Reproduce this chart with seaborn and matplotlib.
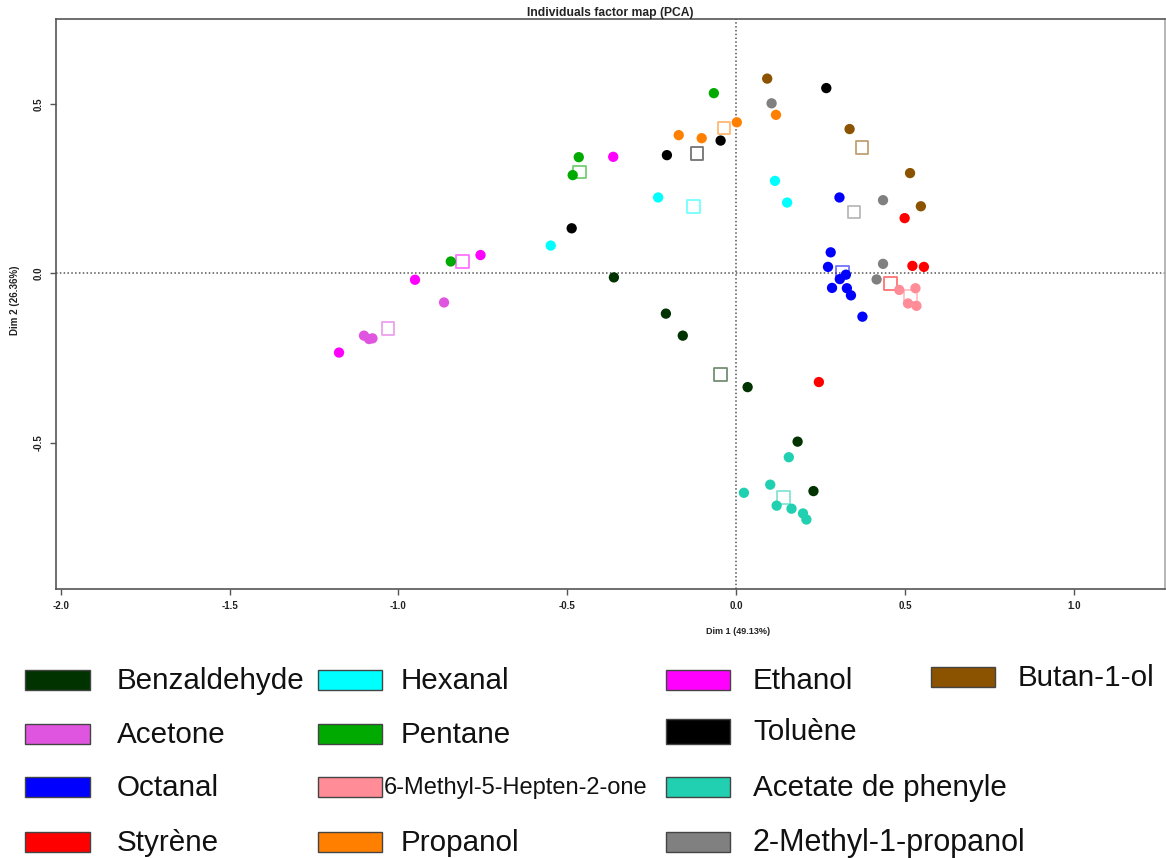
import numpy as np
import pandas as pd
import matplotlib
matplotlib.use("Agg")
import matplotlib.pyplot as plt
from matplotlib.patches import Rectangle
import seaborn as sns

# ---------------- data ----------------
categories = ["Benzaldehyde", "Acetone", "Octanal", "Styrène", "Hexanal", "Pentane",
              "6-Methyl-5-Hepten-2-one", "Propanol", "Ethanol", "Toluène",
              "Acetate de phenyle", "2-Methyl-1-propanol", "Butan-1-ol"]

benzaldehyde_x = [-0.362, -0.208, -0.158, 0.034, 0.182, 0.229]
benzaldehyde_y = [-0.012, -0.119, -0.184, -0.336, -0.497, -0.643]
acetone_x = [-0.865, -1.102, -1.087, -1.077]
acetone_y = [-0.086, -0.184, -0.194, -0.192]
octanal_x = [0.306, 0.280, 0.272, 0.325, 0.307, 0.284, 0.328, 0.340, 0.374]
octanal_y = [0.224, 0.062, 0.019, -0.004, -0.017, -0.043, -0.044, -0.065, -0.128]
styrene_x = [0.499, 0.522, 0.556, 0.245]
styrene_y = [0.163, 0.022, 0.019, -0.321]
hexanal_x = [-0.549, -0.231, 0.115, 0.151]
hexanal_y = [0.082, 0.224, 0.273, 0.209]
pentane_x = [-0.845, -0.484, -0.466, -0.066]
pentane_y = [0.035, 0.290, 0.343, 0.532]
methylheptenone_x = [0.483, 0.531, 0.509, 0.534]
methylheptenone_y = [-0.049, -0.044, -0.089, -0.096]
propanol_x = [-0.170, -0.102, 0.002, 0.118]
propanol_y = [0.408, 0.399, 0.446, 0.468]
ethanol_x = [-1.176, -0.951, -0.757, -0.364]
ethanol_y = [-0.234, -0.019, 0.054, 0.344]
toluene_x = [-0.487, -0.205, -0.046, 0.267]
toluene_y = [0.133, 0.349, 0.392, 0.547]
acetate_x = [0.023, 0.101, 0.120, 0.156, 0.164, 0.198, 0.208]
acetate_y = [-0.648, -0.624, -0.686, -0.543, -0.695, -0.709, -0.727]
methylpropanol_x = [0.105, 0.435, 0.435, 0.416]
methylpropanol_y = [0.502, 0.216, 0.028, -0.018]
butanol_x = [0.092, 0.336, 0.515, 0.547]
butanol_y = [0.575, 0.426, 0.296, 0.198]

# category centres (hollow squares)
centre_x = [-0.046, -1.031, 0.316, 0.456, -0.127, -0.465, 0.516, -0.036, -0.810,
            -0.116, 0.140, 0.349, 0.373]
centre_y = [-0.299, -0.164, 0.004, -0.030, 0.197, 0.299, -0.067, 0.429, 0.035,
            0.355, -0.663, 0.181, 0.371]

colors = ["#003300", "#E055E0", "#0000FF", "#FF0000", "#00FFFF", "#00AA00",
          "#FF8C96", "#FF8000", "#FF00FF", "#000000", "#20D0B0", "#808080", "#8B5200"]

xs = [benzaldehyde_x, acetone_x, octanal_x, styrene_x, hexanal_x, pentane_x,
      methylheptenone_x, propanol_x, ethanol_x, toluene_x, acetate_x,
      methylpropanol_x, butanol_x]
ys = [benzaldehyde_y, acetone_y, octanal_y, styrene_y, hexanal_y, pentane_y,
      methylheptenone_y, propanol_y, ethanol_y, toluene_y, acetate_y,
      methylpropanol_y, butanol_y]

rows = []
for cat, xv, yv in zip(categories, xs, ys):
    for a, b in zip(xv, yv):
        rows.append((cat, a, b))
pts = pd.DataFrame(rows, columns=["compound", "Dim1", "Dim2"])
cent = pd.DataFrame({"compound": categories, "Dim1": centre_x, "Dim2": centre_y})
palette = dict(zip(categories, colors))

# ---------------- figure ----------------
sns.set_style("white")
plt.rcParams["font.family"] = ["Liberation Sans", "DejaVu Sans"]
plt.rcParams["axes.unicode_minus"] = False

W, H = 1166, 858
fig = plt.figure(figsize=(W / 100, H / 100), dpi=100)
ax_l, ax_r, ax_t, ax_b = 55.7, 1165.0, 19.0, 589.3
ax = fig.add_axes([ax_l / W, 1 - ax_b / H, (ax_r - ax_l) / W, (ax_b - ax_t) / H])

ax.axhline(0, color="#555555", lw=1.1, ls=(0, (1, 1.5)), zorder=1)
ax.axvline(0, color="#555555", lw=1.1, ls=(0, (1, 1.5)), zorder=1)

sns.scatterplot(data=cent, x="Dim1", y="Dim2", hue="compound", palette=palette,
                marker="s", s=85, linewidth=0, legend=False, ax=ax, zorder=2)
sq = ax.collections[-1]
fcs = sq.get_facecolors().copy()
fcs[:, 3] = 0.55
sq.set_facecolors("none")
sq.set_edgecolors(fcs)
sq.set_linewidths(1.3)

sns.scatterplot(data=pts, x="Dim1", y="Dim2", hue="compound", palette=palette,
                marker="o", s=55, linewidth=0, legend=False, ax=ax, zorder=3)

ax.set_xlim(-2.015, 1.27)
ax.set_ylim(-0.933, 0.751)
ax.set_xticks([-2.0, -1.5, -1.0, -0.5, 0.0, 0.5, 1.0])
ax.set_xticklabels(["-2.0", "-1.5", "-1.0", "-0.5", "0.0", "0.5", "1.0"])
ax.set_yticks([-0.5, 0.0, 0.5])
ax.set_yticklabels(["-0.5", "0.0", "0.5"], rotation=90, va="center")
ax.tick_params(axis="both", direction="out", length=4.5, width=1.0, color="#555555",
               labelsize=7, pad=4, left=True, bottom=True)
for lab in ax.get_xticklabels() + ax.get_yticklabels():
    lab.set_fontweight("bold")
    lab.set_color("#222222")
for sp in ax.spines.values():
    sp.set_color("#555555")
    sp.set_linewidth(1.2)
ax.spines["right"].set_color("#aaaaaa")

ax.set_title("Individuals factor map (PCA)", fontsize=8.7, fontweight="bold", pad=2,
             color="#222222")
ax.set_xlabel("Dim 1 (49.13%)", fontsize=6.5, fontweight="bold", color="#222222")
ax.set_ylabel("Dim 2 (26.36%)", fontsize=7, fontweight="bold", color="#222222")
ax.xaxis.label.set_va("center")
ax.yaxis.label.set_va("center")
ax.xaxis.set_label_coords((738 - ax_l) / (ax_r - ax_l), (ax_b - 632) / (ax_b - ax_t))
ax.yaxis.set_label_coords((15 - ax_l) / (ax_r - ax_l), (ax_b - 300) / (ax_b - ax_t))

# ---------------- legend (custom, below the plot) ----------------
def fx(px):
    return px / W

def fy(py):
    return 1 - py / H

legend_layout = {
    "Benzaldehyde": (25, 90, 680, 20, 117, 21.3),
    "Acetone": (25, 90, 734, 20, 117, 21.3),
    "Octanal": (25, 90, 787, 20, 117, 21.3),
    "Styrène": (25, 90, 842, 20, 117, 21.3),
    "Hexanal": (318, 382, 680, 20, 401, 21.3),
    "Pentane": (318, 382, 734, 20, 401, 21.3),
    "6-Methyl-5-Hepten-2-one": (318, 382, 787, 20, 384, 17),
    "Propanol": (318, 382, 842, 20, 401, 21.3),
    "Ethanol": (666, 730, 680, 20, 753, 21.3),
    "Toluène": (666, 730, 731, 25, 753, 21.3),
    "Acetate de phenyle": (666, 730, 787, 20, 753, 21.3),
    "2-Methyl-1-propanol": (666, 730, 842, 20, 753, 22),
    "Butan-1-ol": (931, 995, 677, 20, 1018, 21.3),
}
for cat in categories:
    x0, x1, yc, h, tx, fs = legend_layout[cat]
    r = Rectangle((fx(x0), fy(yc + h / 2)), fx(x1) - fx(x0), h / H,
                  transform=fig.transFigure, facecolor=palette[cat],
                  edgecolor="#444444", linewidth=1.0)
    fig.add_artist(r)
    fig.text(fx(tx), fy(yc + 1), cat, fontsize=fs, ha="left", va="center",
             color="#111111")

fig.savefig("out.png", dpi=100)
